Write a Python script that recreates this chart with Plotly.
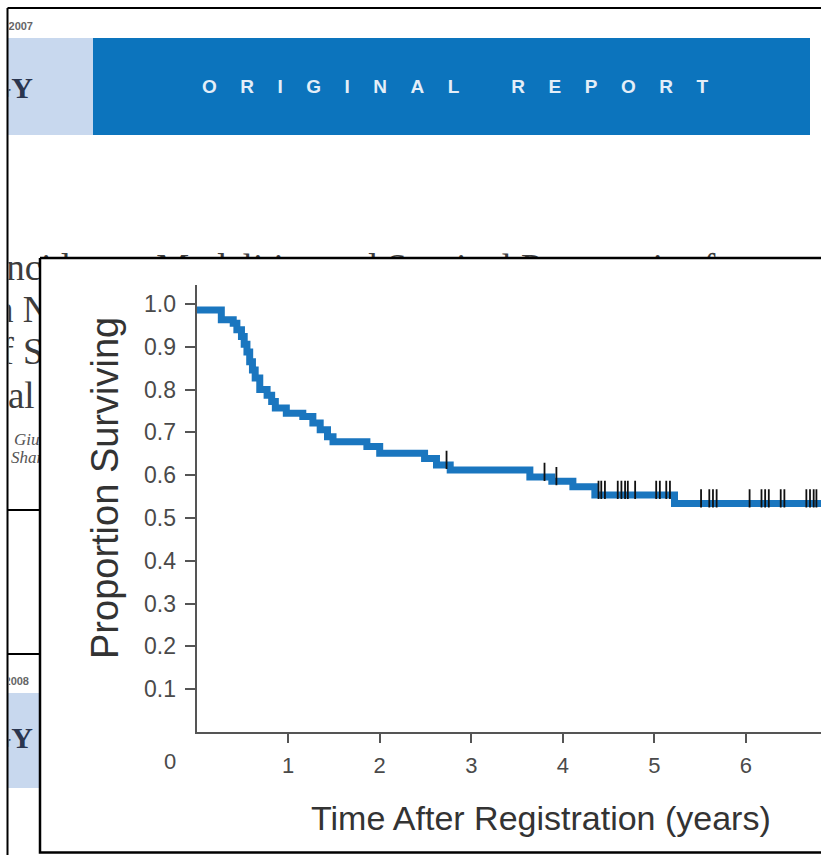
import plotly.graph_objects as go

# ---- Kaplan-Meier estimate (step function) ----
km_time = [0, 0.27, 0.40, 0.44, 0.49, 0.52, 0.55, 0.58, 0.61, 0.64, 0.69, 0.77,
           0.82, 0.86, 0.98, 1.16, 1.27, 1.35, 1.43, 1.49, 1.86, 2.00, 2.49,
           2.62, 2.77, 3.64, 3.88, 4.11, 4.35, 5.22, 6.82]
km_surv = [0.986, 0.963, 0.955, 0.940, 0.924, 0.906, 0.888, 0.865, 0.846, 0.827,
           0.800, 0.787, 0.772, 0.757, 0.745, 0.737, 0.722, 0.706, 0.690, 0.678,
           0.667, 0.651, 0.639, 0.624, 0.612, 0.596, 0.586, 0.573, 0.554, 0.534,
           0.534]

# censored observations
cens_time = [2.73, 3.80, 3.93, 4.39, 4.42, 4.46, 4.60, 4.64, 4.68, 4.71, 4.79,
             5.02, 5.06, 5.13, 5.17, 5.51, 5.60, 5.64, 5.68, 6.04, 6.17, 6.21,
             6.25, 6.38, 6.42, 6.66, 6.70, 6.74, 6.77]
cens_surv = [0.624, 0.596, 0.586] + [0.554] * 12 + [0.534] * 14

y_ticks = [0.1, 0.2, 0.3, 0.4, 0.5, 0.6, 0.7, 0.8, 0.9, 1.0]
y_ticktext = ["0.1", "0.2", "0.3", "0.4", "0.5", "0.6", "0.7", "0.8", "0.9", "1.0"]
x_ticks = [1, 2, 3, 4, 5, 6]
x_ticktext = ["1", "2", "3", "4", "5", "6"]

# ---- page text behind the figure ----
title_lines = ["Incidence, Modalities and Survival Prognostics for",
               "With Newly",
               "of Small",
               "Trial"]
author_lines = ["Giulia", "Sharon"]
journal_name = "ONCOLOGY"
banner_text = "ORIGINAL REPORT"

W, H = 821, 855
KM_BLUE = "#1a76bf"
BANNER_BLUE = "#0c74bd"
PALE_BLUE = "#c8d8ee"
AXIS_GREY = "#555555"
SANS = "Liberation Sans, Arial, Helvetica, sans-serif"
SERIF = "Liberation Serif, Times New Roman, DejaVu Serif, serif"


def px(x):
    return x / W


def py(y):
    return 1 - y / H


fig = go.Figure()

# background page layer (axis units = pixels)
fig.add_trace(go.Scatter(
    x=[-6, -59, -17, -36], y=[271, 313, 355, 399],
    mode="text", text=title_lines, textposition="middle right",
    textfont=dict(family=SERIF, size=37, color="#3d3d3d"),
    xaxis="x", yaxis="y", hoverinfo="skip", showlegend=False))
fig.add_trace(go.Scatter(
    x=[14, 11], y=[441, 459],
    mode="text", text=author_lines, textposition="middle right",
    textfont=dict(family=SERIF, size=17, color="#555555", style="italic"),
    xaxis="x", yaxis="y", hoverinfo="skip", showlegend=False))
fig.add_trace(go.Scatter(
    x=[33, 33], y=[90, 740],
    mode="text", text=[journal_name, journal_name], textposition="middle left",
    textfont=dict(family=SERIF, size=30, color="#2b3650", weight="bold"),
    xaxis="x", yaxis="y", hoverinfo="skip", showlegend=False))
fig.add_trace(go.Scatter(
    x=[33, 29], y=[27, 682],
    mode="text", text=["2007", "2008"], textposition="middle left",
    textfont=dict(family=SANS, size=11, color="#666666", weight="bold"),
    xaxis="x", yaxis="y", hoverinfo="skip", showlegend=False))

# white figure panel laid over the page
fig.add_trace(go.Scatter(
    x=[40, 840, 840, 40, 40], y=[258, 258, 852.5, 852.5, 258],
    mode="lines", fill="toself", fillcolor="white",
    line=dict(color="black", width=2.5),
    xaxis="x", yaxis="y", hoverinfo="skip", showlegend=False))

# survival curve
fig.add_trace(go.Scatter(
    x=km_time, y=km_surv, mode="lines", line_shape="hv",
    line=dict(color=KM_BLUE, width=7),
    xaxis="x2", yaxis="y2", hoverinfo="skip", showlegend=False))

# censor marks sit slightly above the curve
y_range_top = 1.0444
plot_h_px = 732 - 285
lift = 5 * y_range_top / plot_h_px
fig.add_trace(go.Scatter(
    x=cens_time, y=[v + lift for v in cens_surv], mode="markers",
    marker=dict(symbol="line-ns", size=13,
                line=dict(color="#111111", width=1.8)),
    xaxis="x2", yaxis="y2", hoverinfo="skip", showlegend=False))

# page furniture
shapes = [
    dict(type="rect", x0=px(8), x1=px(93), y0=py(135), y1=py(38),
         fillcolor=PALE_BLUE, line_width=0),
    dict(type="rect", x0=px(93), x1=px(810), y0=py(135), y1=py(38),
         fillcolor=BANNER_BLUE, line_width=0),
    dict(type="rect", x0=px(8), x1=px(40), y0=py(788), y1=py(693),
         fillcolor=PALE_BLUE, line_width=0),
    dict(type="line", x0=px(7.5), x1=1, y0=py(8), y1=py(8),
         line=dict(color="black", width=2)),
    dict(type="line", x0=px(7.5), x1=px(7.5), y0=py(8), y1=0,
         line=dict(color="black", width=2)),
    dict(type="line", x0=px(7.5), x1=px(40), y0=py(510), y1=py(510),
         line=dict(color="black", width=2)),
    dict(type="line", x0=px(7.5), x1=px(40), y0=py(654), y1=py(654),
         line=dict(color="black", width=2)),
]
for s in shapes:
    s.update(xref="paper", yref="paper", layer="below")

annotations = [
    dict(x=px(467), y=py(86),
         text='<span style="letter-spacing:23.5px">' + banner_text + "</span>",
         font=dict(family=SANS, size=19, color="#e4eef8", weight="bold"),
         xanchor="center", yanchor="middle"),
    dict(x=px(170), y=py(761), text="0",
         font=dict(family=SANS, size=22, color="#4a4a4a"),
         xanchor="center", yanchor="middle"),
    dict(x=px(541), y=py(818), text="Time After Registration (years)",
         font=dict(family=SANS, size=34, color="#333333"),
         xanchor="center", yanchor="middle"),
    dict(x=px(105), y=py(488), text="Proportion Surviving", textangle=-90,
         font=dict(family=SANS, size=38, color="#333333"),
         xanchor="center", yanchor="middle"),
]
for a in annotations:
    a.update(xref="paper", yref="paper", showarrow=False)

fig.update_layout(
    width=W, height=H,
    margin=dict(l=0, r=0, t=0, b=0, pad=0),
    paper_bgcolor="white", plot_bgcolor="rgba(0,0,0,0)",
    shapes=shapes, annotations=annotations,
    xaxis=dict(domain=[px(8.5), 1], range=[8.5, 821], visible=False,
               fixedrange=True),
    yaxis=dict(domain=[0, 1], range=[855, 0], visible=False, fixedrange=True),
    xaxis2=dict(domain=[px(196.6), 1], range=[0, 6.82], anchor="y2",
                tickvals=x_ticks, ticktext=x_ticktext,
                ticks="outside", ticklen=9, tickwidth=1.5, tickcolor=AXIS_GREY,
                showline=True, linecolor=AXIS_GREY, linewidth=2,
                showgrid=False, zeroline=False, ticklabelstandoff=4,
                tickfont=dict(family=SANS, size=22, color="#4a4a4a")),
    yaxis2=dict(domain=[py(732), py(285)], range=[0, y_range_top], anchor="x2",
                tickvals=y_ticks, ticktext=y_ticktext,
                ticks="outside", ticklen=10, tickwidth=1.5, tickcolor=AXIS_GREY,
                showline=True, linecolor=AXIS_GREY, linewidth=2,
                showgrid=False, zeroline=False, ticklabelstandoff=4,
                tickfont=dict(family=SANS, size=23, color="#4a4a4a")),
)

fig.write_html("out.html")
